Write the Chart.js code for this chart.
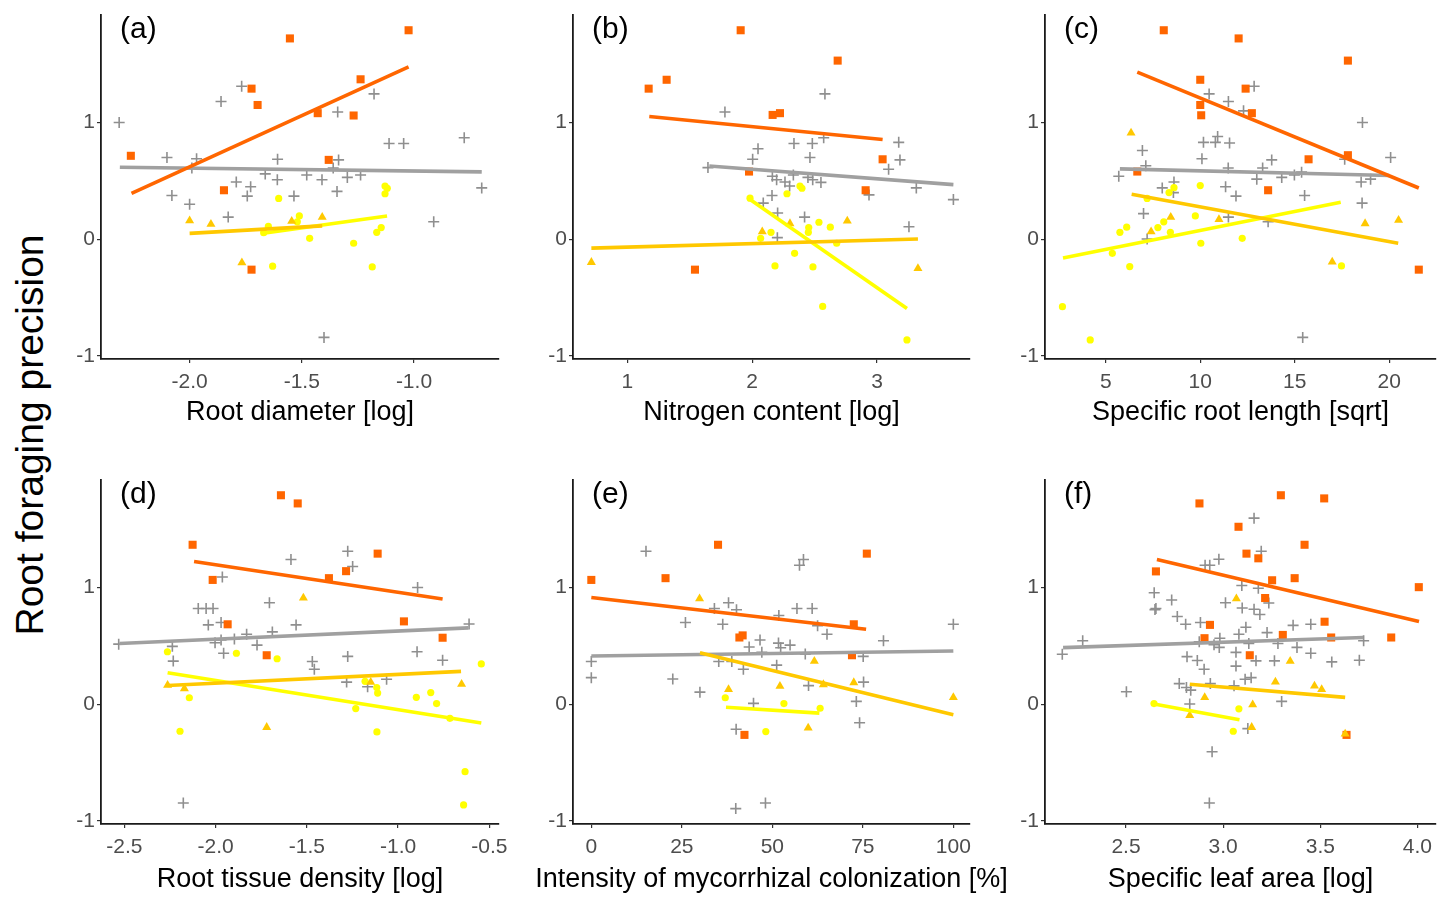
<!DOCTYPE html>
<html>
<head>
<meta charset="utf-8">
<title>Root foraging precision vs traits</title>
<script src="https://cdn.jsdelivr.net/npm/chart.js@4.4.1/dist/chart.umd.min.js"></script>
<style>
  html, body { margin: 0; padding: 0; background: #fff; overflow: hidden; }
  #page { position: relative; width: 1443px; height: 897px; }
  #page canvas { position: absolute; }
  #ytitle {
    position: absolute; left: 30px; top: 435px;
    transform: translate(-50%, -50%) rotate(-90deg);
    font: 39px "Liberation Sans", Arial, sans-serif;
    white-space: nowrap; color: #000;
  }
</style>
</head>
<body>
<div id="page">
  <div id="ytitle">Root foraging precision</div>
</div>
<script>
// shared y ticks
const yTicks = ['-1', '0', '1'];

// (a) root diameter
const aTicks = ['-2.0', '-1.5', '-1.0'];
const aOrange = [[-1.553,1.72],[-1.024,1.79],[-1.724,1.29],[-1.697,1.15],[-1.238,1.37],[-1.429,1.08],[-1.269,1.06],[-2.262,0.715],[-1.380,0.68],[-1.847,0.42],[-1.724,-0.26]];
const aGrey = [[-2.314,1.0],[-1.768,1.31],[-1.860,1.18],[-1.178,1.245],[-1.340,1.09],[-2.101,0.70],[-1.969,0.69],[-1.990,0.61],[-1.608,0.685],[-1.336,0.68],[-1.111,0.82],[-1.046,0.82],[-0.776,0.87],[-0.698,0.44],[-2.079,0.375],[-2.0,0.30],[-1.792,0.49],[-1.728,0.45],[-1.743,0.37],[-1.663,0.56],[-1.609,0.51],[-1.535,0.37],[-1.478,0.55],[-1.410,0.51],[-1.360,0.61],[-1.297,0.53],[-1.238,0.55],[-1.343,0.41],[-1.828,0.19],[-0.912,0.15],[-1.401,-0.84]];
const aGold = [[-2.0,0.16],[-1.905,0.13],[-1.545,0.155],[-1.409,0.19],[-1.767,-0.20]];
const aYellow = [[-1.603,0.35],[-1.511,0.20],[-1.520,0.15],[-1.649,0.11],[-1.670,0.056],[-1.465,0.008],[-1.269,-0.034],[-1.630,-0.23],[-1.186,-0.237],[-1.166,0.06],[-1.146,0.10],[-1.129,0.456],[-1.119,0.437],[-1.129,0.39]];
const aFits = [[-2.259,0.394,-1.024,1.476],[-2.311,0.617,-0.698,0.577],[-2.0,0.051,-1.409,0.115],[-1.679,0.05,-1.120,0.20]];

// (b) nitrogen content
const bTicks = ['1', '2', '3'];
const bOrange = [[1.908,1.79],[2.685,1.53],[1.171,1.29],[1.315,1.366],[2.164,1.065],[2.223,1.08],[3.045,0.685],[1.975,0.58],[2.909,0.42],[1.542,-0.26]];
const bGrey = [[1.782,1.09],[2.583,1.245],[2.047,0.775],[2.004,0.685],[1.646,0.614],[2.335,0.82],[2.482,0.82],[2.463,0.70],[2.573,0.87],[3.174,0.83],[3.184,0.68],[3.093,0.60],[2.162,0.54],[2.196,0.51],[2.263,0.49],[2.300,0.456],[2.330,0.55],[2.447,0.53],[2.551,0.487],[2.485,0.51],[2.159,0.375],[2.089,0.31],[2.204,0.225],[2.420,0.19],[2.202,0.014],[2.936,0.38],[3.315,0.44],[3.612,0.34],[3.256,0.107]];
const bGold = [[0.712,-0.197],[2.081,0.065],[2.303,0.135],[2.762,0.158],[3.328,-0.25]];
const bYellow = [[1.983,0.352],[2.279,0.39],[2.383,0.456],[2.399,0.437],[2.151,0.06],[2.068,0.008],[2.453,0.10],[2.450,0.06],[2.535,0.146],[2.626,0.104],[2.677,-0.034],[2.340,-0.12],[2.183,-0.228],[2.487,-0.237],[2.565,-0.575],[3.240,-0.862]];
const bFits = [[1.176,1.051,3.045,0.854],[1.657,0.628,3.612,0.468],[0.712,-0.076,3.328,0.003],[1.969,0.352,3.240,-0.592]];

// (c) specific root length
const cTicks = ['5', '10', '15', '20'];
const cOrange = [[8.07,1.79],[12.03,1.72],[17.81,1.53],[10.0,1.366],[12.40,1.29],[10.0,1.15],[10.05,1.062],[12.73,1.08],[17.81,0.72],[15.73,0.685],[6.67,0.58],[13.59,0.42],[21.56,-0.26]];
const cGrey = [[12.85,1.31],[10.47,1.245],[11.49,1.18],[12.29,1.10],[18.58,1.0],[10.92,0.88],[10.17,0.83],[10.80,0.83],[11.55,0.825],[6.94,0.76],[10.09,0.69],[13.78,0.68],[20.07,0.70],[17.64,0.685],[7.12,0.63],[5.69,0.54],[11.48,0.61],[13.30,0.61],[12.99,0.515],[14.31,0.53],[14.98,0.55],[15.36,0.575],[18.51,0.49],[19.01,0.515],[8.61,0.49],[7.99,0.44],[8.58,0.40],[11.34,0.45],[11.89,0.37],[15.52,0.375],[18.56,0.31],[7.0,0.22],[11.49,0.19],[13.59,0.15],[7.19,0.003],[15.42,-0.84]];
const cGold = [[6.34,0.91],[8.44,0.19],[7.40,0.065],[10.99,0.17],[18.72,0.135],[20.49,0.163],[16.98,-0.194]];
const cYellow = [[8.61,0.442],[8.35,0.40],[7.19,0.35],[10.0,0.46],[9.74,0.20],[6.11,0.104],[5.75,0.06],[7.76,0.10],[8.07,0.15],[8.42,0.06],[10.03,-0.034],[12.22,0.008],[5.35,-0.12],[6.27,-0.234],[17.47,-0.228],[2.71,-0.577],[4.18,-0.862]];
const cFits = [[6.67,1.431,21.56,0.439],[5.75,0.603,20.0,0.546],[6.37,0.386,20.47,-0.034],[2.74,-0.161,17.43,0.318]];

// (d) root tissue density
const dTicks = ['-2.5', '-2.0', '-1.5', '-1.0', '-0.5'];
const dOrange = [[-1.642,1.79],[-1.550,1.72],[-2.126,1.366],[-1.112,1.29],[-1.285,1.14],[-1.379,1.08],[-2.016,1.065],[-1.934,0.685],[-0.968,0.71],[-0.756,0.57],[-1.720,0.42]];
const dGrey = [[-1.276,1.31],[-1.587,1.24],[-1.249,1.18],[-1.963,1.09],[-0.893,1.0],[-1.705,0.87],[-2.095,0.82],[-2.052,0.82],[-2.014,0.82],[-2.040,0.68],[-1.970,0.70],[-1.559,0.68],[-0.611,0.687],[-1.830,0.60],[-1.689,0.62],[-1.897,0.56],[-1.970,0.55],[-2.003,0.527],[-1.773,0.507],[-2.531,0.515],[-2.237,0.496],[-2.232,0.37],[-1.956,0.437],[-1.470,0.366],[-1.459,0.30],[-1.276,0.41],[-0.896,0.45],[-0.756,0.377],[-1.282,0.19],[-1.167,0.15],[-1.063,0.214],[-2.177,-0.845]];
const dGold = [[-1.519,0.91],[-2.263,0.163],[-2.171,0.135],[-1.150,0.19],[-0.652,0.172],[-1.720,-0.197]];
const dYellow = [[-2.264,0.45],[-1.886,0.437],[-1.663,0.39],[-0.544,0.346],[-1.181,0.197],[-1.117,0.144],[-1.112,0.096],[-0.900,0.06],[-0.821,0.10],[-0.789,0.006],[-0.716,-0.12],[-1.232,-0.037],[-2.144,0.056],[-2.195,-0.231],[-1.116,-0.237],[-0.633,-0.577],[-0.641,-0.862]];
const dFits = [[-2.118,1.223,-0.756,0.901],[-2.527,0.521,-0.615,0.654],[-2.263,0.161,-0.655,0.282],[-2.263,0.270,-0.544,-0.161]];

// (e) mycorrhizal colonization
const eTicks = ['0', '25', '50', '75', '100'];
const eOrange = [[35.0,1.366],[76.1,1.29],[20.5,1.08],[0,1.065],[72.5,0.685],[40.9,0.572],[41.8,0.59],[72.0,0.42],[42.3,-0.262]];
const eGrey = [[15.1,1.31],[57.5,1.19],[58.6,1.24],[26.0,0.70],[34.0,0.82],[37.9,0.87],[40.1,0.81],[36.3,0.685],[51.8,0.76],[56.8,0.82],[61.0,0.82],[62.5,0.673],[65.1,0.60],[46.6,0.55],[51.7,0.524],[43.6,0.49],[47.1,0.445],[52.3,0.484],[54.9,0.507],[59.1,0.43],[80.7,0.544],[100,0.685],[0,0.366],[0,0.228],[35.2,0.366],[38.8,0.366],[42.0,0.30],[51.2,0.335],[75.1,0.41],[22.5,0.217],[30.0,0.104],[60.0,0.16],[75.2,0.19],[44.8,0.008],[73.2,0.025],[74.1,-0.158],[40.0,-0.214],[48.1,-0.845],[39.9,-0.893]];
const eGold = [[29.9,0.904],[37.9,0.127],[52.1,0.155],[61.6,0.369],[64.1,0.169],[72.5,0.186],[100,0.059],[59.9,-0.203]];
const eYellow = [[37.0,0.056],[53.2,0.006],[63.2,-0.034],[48.2,-0.234]];
const eFits = [[0,0.915,75.9,0.642],[0,0.414,100,0.456],[30.0,0.442,100,-0.09],[37.2,-0.025,63.0,-0.076]];

// (f) specific leaf area
const fTicks = ['2.5', '3.0', '3.5', '4.0'];
const fOrange = [[3.297,1.79],[3.520,1.763],[2.878,1.72],[3.079,1.52],[3.419,1.366],[3.120,1.29],[3.181,1.25],[2.654,1.138],[3.252,1.062],[3.368,1.08],[4.007,1.003],[3.216,0.91],[3.522,0.707],[2.932,0.68],[3.307,0.594],[3.556,0.572],[3.865,0.572],[2.904,0.566],[3.137,0.42],[3.635,-0.262]];
const fGrey = [[3.159,1.594],[3.196,1.31],[2.978,1.242],[2.907,1.19],[2.931,1.19],[3.096,1.017],[3.181,0.994],[2.645,0.955],[2.735,0.893],[2.649,0.811],[2.654,0.82],[3.012,0.87],[3.098,0.825],[3.159,0.814],[3.235,0.868],[3.189,0.769],[2.764,0.752],[2.807,0.685],[2.883,0.70],[3.117,0.66],[3.081,0.60],[3.226,0.614],[3.360,0.676],[3.451,0.685],[2.277,0.544],[2.172,0.428],[2.877,0.535],[2.983,0.566],[2.953,0.51],[2.980,0.487],[3.132,0.521],[3.282,0.521],[3.380,0.487],[3.723,0.544],[2.814,0.408],[2.867,0.375],[2.902,0.30],[3.066,0.445],[3.066,0.327],[3.169,0.372],[3.264,0.372],[3.451,0.437],[3.559,0.363],[3.701,0.377],[2.774,0.177],[2.811,0.144],[2.833,0.121],[2.934,0.177],[3.056,0.158],[3.113,0.214],[3.144,0.228],[2.502,0.107],[2.828,0.003],[3.301,0.025],[3.127,-0.208],[2.943,-0.406],[2.929,-0.845]];
const fGold = [[3.068,0.904],[3.345,0.369],[3.269,0.192],[3.470,0.158],[3.507,0.127],[2.905,0.059],[3.152,-0.003],[2.828,-0.096],[3.147,-0.197],[3.628,-0.254]];
const fYellow = [[2.644,0.006],[3.081,-0.039],[3.052,-0.231]];
const fFits = [[2.659,1.239,4.008,0.710],[2.176,0.485,3.721,0.572],[2.828,0.172,3.628,0.059],[2.644,0.003,3.084,-0.132]];

// group styling: orange squares, grey crosses, gold triangles, yellow dots
const groupStyle = [
  { color: '#FF6600', shape: 'rect',     radius: 5.7, order: 7 },
  { color: '#8F8F8F', shape: 'cross',    radius: 5.5, order: 8 },
  { color: '#FFC800', shape: 'triangle', radius: 5.2, order: 5 },
  { color: '#FFFF00', shape: 'circle',   radius: 3.6, order: 6 }
];
const fitStyle = [
  { color: '#FF6600', order: 2 },
  { color: '#A0A0A0', order: 4 },
  { color: '#FFC800', order: 1 },
  { color: '#FFFF00', order: 3 }
];

const panels = [
  { tag: '(a)', title: 'Root diameter [log]', ticks: aTicks, series: [aOrange, aGrey, aGold, aYellow], fits: aFits, xmin: -2.395, xmax: -0.621, col: 0, row: 0 },
  { tag: '(b)', title: 'Nitrogen content [log]', ticks: bTicks, series: [bOrange, bGrey, bGold, bYellow], fits: bFits, xmin: 0.565, xmax: 3.745, col: 1, row: 0 },
  { tag: '(c)', title: 'Specific root length [sqrt]', ticks: cTicks, series: [cOrange, cGrey, cGold, cYellow], fits: cFits, xmin: 1.788, xmax: 22.465, col: 2, row: 0 },
  { tag: '(d)', title: 'Root tissue density [log]', ticks: dTicks, series: [dOrange, dGrey, dGold, dYellow], fits: dFits, xmin: -2.628, xmax: -0.447, col: 0, row: 1 },
  { tag: '(e)', title: 'Intensity of mycorrhizal colonization [%]', ticks: eTicks, series: [eOrange, eGrey, eGold, eYellow], fits: eFits, xmin: -5.06, xmax: 104.6, col: 1, row: 1 },
  { tag: '(f)', title: 'Specific leaf area [log]', ticks: fTicks, series: [fOrange, fGrey, fGold, fYellow], fits: fFits, xmin: 2.083, xmax: 4.095, col: 2, row: 1 }
];

// page geometry of the plotting areas
const colLeft = [101, 573, 1045];
const colRight = [499, 970, 1442];
const rowTop = [0, 465];
const rowEnd = [440, 897];
const plotTop = [10, 475];
const plotBottom = [359, 824];
const titleGap = [54, 56];
const yAxisWidth = 75;

const FONT = '"Liberation Sans", Arial, Helvetica, sans-serif';

// panel tag in the corner and the x axis title (drawn freely so long titles aren't squeezed)
const panelText = {
  id: 'panelText',
  afterDraw(chart, args, opts) {
    const { ctx, chartArea } = chart;
    ctx.save();
    ctx.fillStyle = '#000';
    ctx.textBaseline = 'middle';
    ctx.textAlign = 'left';
    ctx.font = '30px ' + FONT;
    ctx.fillText(opts.tag, chartArea.left + 19, chartArea.top + 15);
    ctx.textAlign = 'center';
    ctx.font = '27px ' + FONT;
    ctx.fillText(opts.title, (chartArea.left + chartArea.right) / 2, chartArea.bottom + opts.gap);
    ctx.restore();
  }
};

function pointSet(points, st) {
  return {
    data: points.map(p => ({ x: p[0], y: p[1] })),
    pointStyle: st.shape,
    pointRadius: st.radius,
    pointHoverRadius: st.radius,
    backgroundColor: st.color,
    borderColor: st.color,
    borderWidth: st.shape === 'cross' ? 1.6 : 0,
    order: st.order,
    clip: false
  };
}

function fitSet(fit, st) {
  return {
    data: [{ x: fit[0], y: fit[1] }, { x: fit[2], y: fit[3] }],
    showLine: true,
    borderColor: st.color,
    borderWidth: 3.6,
    borderCapStyle: 'butt',
    pointRadius: 0,
    pointHoverRadius: 0,
    fill: false,
    order: st.order
  };
}

const page = document.getElementById('page');

panels.forEach(function(p) {
  var padRight = p.col === 2 ? 1 : 60;
  var left = colLeft[p.col] - yAxisWidth;
  var width = colRight[p.col] - colLeft[p.col] + yAxisWidth + padRight;
  var height = rowEnd[p.row] - rowTop[p.row];
  var xHeight = rowEnd[p.row] - plotBottom[p.row];

  var canvas = document.createElement('canvas');
  canvas.width = width;
  canvas.height = height;
  canvas.style.left = left + 'px';
  canvas.style.top = rowTop[p.row] + 'px';
  canvas.style.width = width + 'px';
  canvas.style.height = height + 'px';
  page.appendChild(canvas);

  var datasets = [];
  p.fits.forEach(function(f, i) { datasets.push(fitSet(f, fitStyle[i])); });
  p.series.forEach(function(s, i) { datasets.push(pointSet(s, groupStyle[i])); });

  new Chart(canvas.getContext('2d'), {
    type: 'scatter',
    data: { datasets: datasets },
    plugins: [panelText],
    options: {
      responsive: false,
      animation: false,
      events: [],
      layout: { padding: { left: 0, right: padRight, top: plotTop[p.row] - rowTop[p.row], bottom: 0 } },
      plugins: {
        legend: { display: false },
        tooltip: { enabled: false },
        panelText: { tag: p.tag, title: p.title, gap: titleGap[p.row] }
      },
      scales: {
        x: {
          type: 'linear',
          min: p.xmin,
          max: p.xmax,
          afterBuildTicks: function(s) { s.ticks = p.ticks.map(t => ({ value: Number(t) })); },
          afterFit: function(s) { s.height = xHeight; },
          ticks: {
            autoSkip: false,
            maxRotation: 0,
            padding: 7,
            color: '#4D4D4D',
            font: { family: FONT, size: 21, lineHeight: 1.2 },
            callback: function(v, i) { return p.ticks[i]; }
          },
          grid: { drawOnChartArea: false, drawTicks: true, tickLength: 4, color: '#333', lineWidth: 1.2 },
          border: { display: true, color: '#1a1a1a', width: 1.8 }
        },
        y: {
          type: 'linear',
          min: -1.025,
          max: 1.924,
          afterBuildTicks: function(s) { s.ticks = yTicks.map(t => ({ value: Number(t) })); },
          afterFit: function(s) { s.width = yAxisWidth; },
          ticks: {
            autoSkip: false,
            padding: 2,
            color: '#4D4D4D',
            font: { family: FONT, size: 21, lineHeight: 1.2 },
            callback: function(v, i) { return yTicks[i]; }
          },
          grid: { drawOnChartArea: false, drawTicks: true, tickLength: 4, color: '#333', lineWidth: 1.2 },
          border: { display: true, color: '#1a1a1a', width: 1.8 }
        }
      }
    }
  });
});
</script>
</body>
</html>
